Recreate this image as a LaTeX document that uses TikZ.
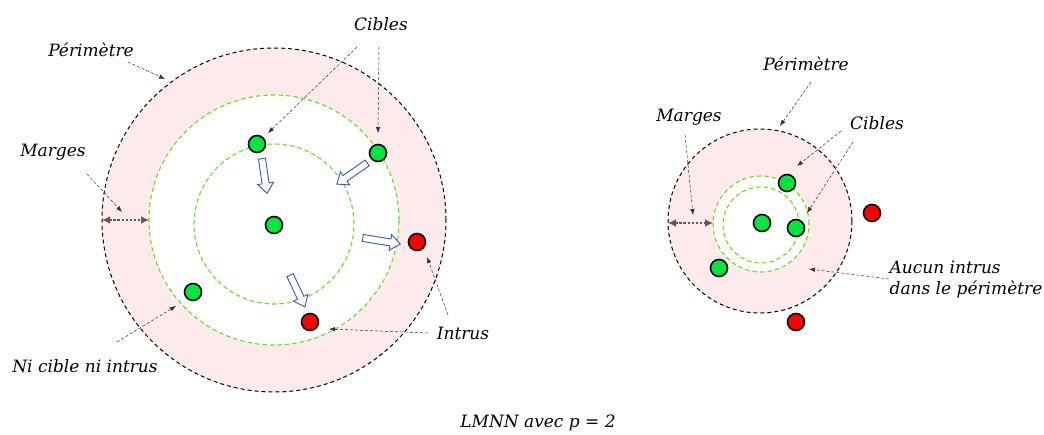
\documentclass[tikz,border=0pt]{standalone}
\usepackage{fontspec}
\setmainfont{DejaVu Serif}
\usetikzlibrary{arrows.meta}
\definecolor{pinkfill}{RGB}{253,234,234}
\definecolor{gdash}{RGB}{100,225,30}
\definecolor{dotgreen}{RGB}{0,230,64}
\definecolor{dotred}{RGB}{255,0,0}
\definecolor{blockblue}{RGB}{55,90,160}
\definecolor{margegray}{RGB}{90,90,90}
\tikzset{
  lbl/.style={font=\fontsize{17}{21}\selectfont\itshape, inner sep=1pt},
  gdot/.style={circle, draw=black, line width=1.6pt, fill=dotgreen, minimum size=17pt, inner sep=0pt},
  rdot/.style={gdot, fill=dotred},
  perim/.style={draw=black, line width=1pt, dash pattern=on 4pt off 3pt},
  gcirc/.style={draw=gdash, line width=1.1pt, dash pattern=on 4.5pt off 3pt},
  ptr/.style={densely dashed, line width=0.5pt, draw=black!80, -{Latex[length=6pt,width=4.5pt]}},
  marge/.style={draw=margegray, line width=2.3pt, dash pattern=on 2.3pt off 1.8pt,
    {Latex[length=8pt,width=8pt,sep=0pt]}-{Latex[length=8pt,width=8pt]}},
  blk/.style={draw=blockblue, fill=white, line width=0.9pt, line join=miter}
}
% block arrow along +x, centred at origin: length #1
\newcommand{\blockarrow}[1]{%
  (-#1/2,-3.5) -- ({#1/2-10},-3.5) -- ({#1/2-10},-8) -- (#1/2,0) -- ({#1/2-10},8) -- ({#1/2-10},3.5) -- (-#1/2,3.5) -- cycle}
\begin{document}
\begin{tikzpicture}[x=1pt,y=-1pt]
\useasboundingbox (0,0) rectangle (1044,435);
% ---------- left diagram ----------
\fill[pinkfill] (274,220) circle[radius=172pt];
\fill[white] (274,220) circle[radius=125pt];
\path[perim] (274,220) circle[radius=172pt];
\path[gcirc] (274,220) circle[radius=125pt];
\path[gcirc] (274,224) circle[radius=80pt];

\node[gdot] (c0) at (274,225) {};
\node[gdot] (t1) at (257,144) {};
\node[gdot] (t2) at (378,153) {};
\node[rdot] (i1) at (417,242) {};
\node[rdot] (i2) at (310,322) {};
\node[gdot] (n1) at (193,292) {};

\draw[blk, shift={(264.5,176)}, rotate=-81.6] \blockarrow{35};
\draw[blk, shift={(352,173.5)}, rotate=-145] \blockarrow{37};
\draw[blk, shift={(381.5,241)}, rotate=-9.2] \blockarrow{38};
\draw[blk, shift={(297.5,291)}, rotate=-64.9] \blockarrow{35};

\coordinate (mL1) at (102,220);
\coordinate (mL2) at (149,220);
\draw[marge] (mL1) -- (mL2);

\node[lbl] (cibL) at (381,24) {Cibles};
\node[lbl] (perL) at (91,50) {Périmètre};
\node[lbl] (marL) at (53,152) {Marges};
\node[lbl] (niL) at (85,366) {Ni cible ni intrus};
\node[lbl] (intL) at (463,333) {Intrus};

\coordinate (aC1) at (268,133);
\coordinate (aC2) at (378,133);
\coordinate (aP) at (165,79);
\coordinate (aM) at (122,212);
\coordinate (aN) at (176,306);
\coordinate (aI1) at (427,257);
\coordinate (aI2) at (329,329);
\draw[ptr] (357,47) -- (aC1);
\draw[ptr] (379,47) -- (aC2);
\draw[ptr] (128,62) -- (aP);
\draw[ptr] (87,174) -- (aM);
\draw[ptr] (117,342) -- (aN);
\draw[ptr] (448,315) -- (aI1);
\draw[ptr] (428,333) -- (aI2);

% ---------- right diagram ----------
\fill[pinkfill] (760,221) circle[radius=92pt];
\fill[white] (761,224) circle[radius=48pt];
\path[perim] (760,221) circle[radius=92pt];
\path[gcirc] (761,224) circle[radius=48pt];
\path[gcirc] (761,225) circle[radius=38pt];

\node[gdot] (rc0) at (762,223) {};
\node[gdot] (rt1) at (787,183) {};
\node[gdot] (rt2) at (796,228) {};
\node[gdot] (rn1) at (719,268) {};
\node[rdot] (ri1) at (872,213) {};
\node[rdot] (ri2) at (796,322) {};

\coordinate (mR1) at (668,223);
\coordinate (mR2) at (713,223);
\draw[marge] (mR1) -- (mR2);

\node[lbl] (perR) at (806,64) {Périmètre};
\node[lbl] (marR) at (689,117) {Marges};
\node[lbl] (cibR) at (877,123) {Cibles};
\node[lbl, align=left] (aucR) at (966,280) {Aucun intrus\\dans le périmètre};

\coordinate (rP) at (780,126);
\coordinate (rM) at (693,215);
\coordinate (rC1) at (797,166);
\coordinate (rC2) at (807,213);
\coordinate (rA) at (809,269);
\draw[ptr] (811,82) -- (rP);
\draw[ptr] (685,135) -- (rM);
\draw[ptr] (841,131) -- (rC1);
\draw[ptr] (853,142) -- (rC2);
\draw[ptr] (889,279) -- (rA);

\node[lbl] (cap) at (538,423) {LMNN avec p = 2};
\end{tikzpicture}
\end{document}
